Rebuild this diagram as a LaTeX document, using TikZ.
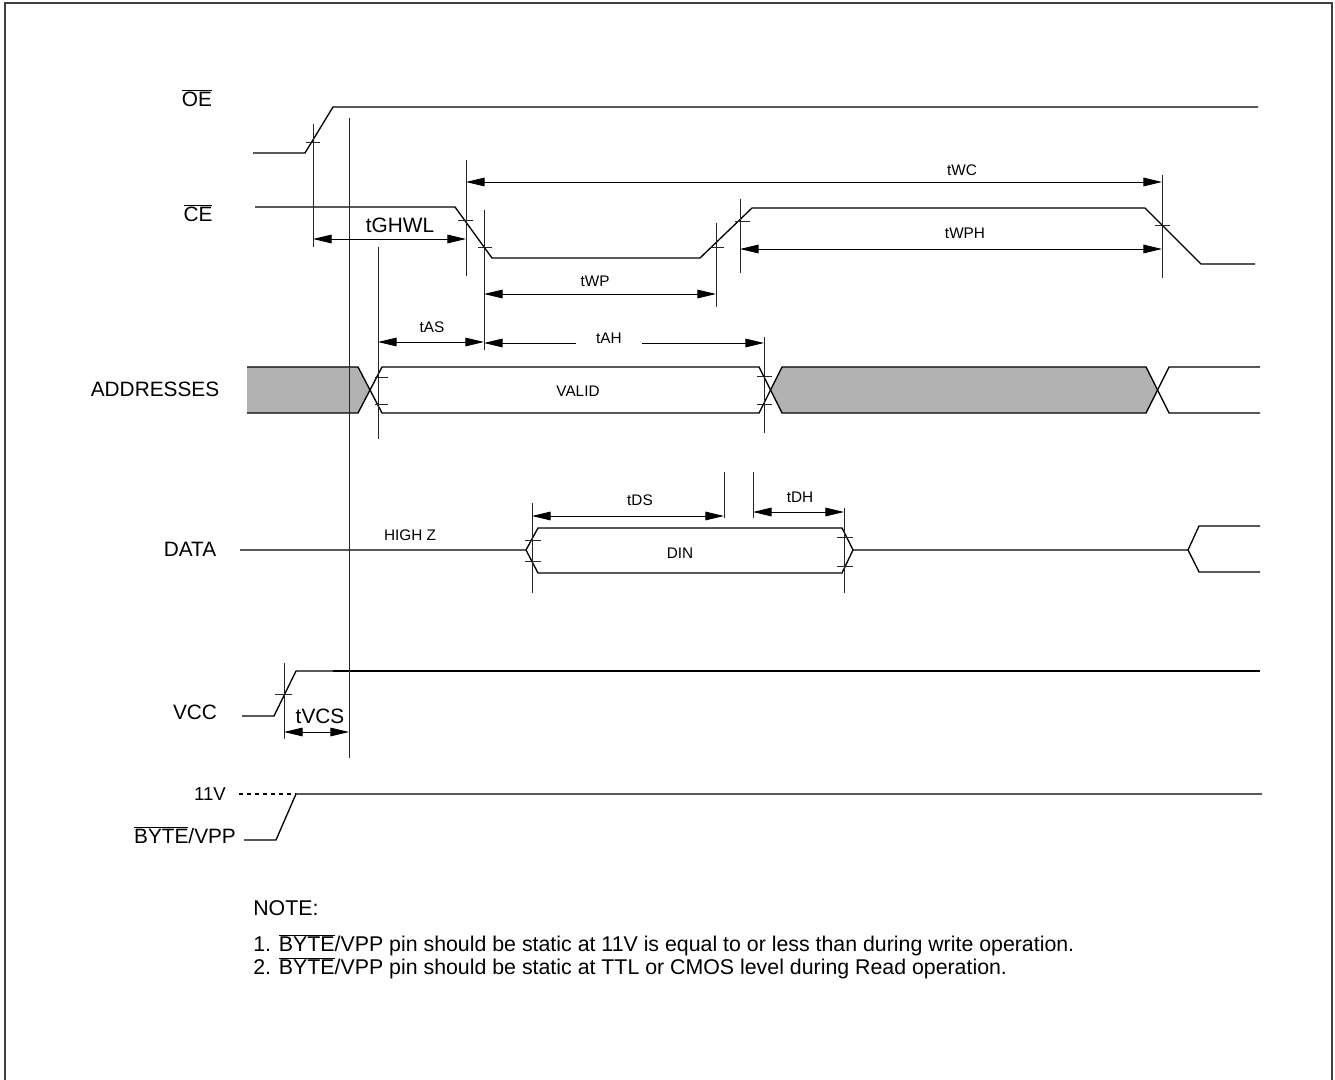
\documentclass[tikz,border=0pt]{standalone}
\usepackage{fontspec}
\setmainfont{Liberation Sans}
\usetikzlibrary{arrows.meta}

\newcommand{\barsig}[1]{$\overline{\mbox{#1}}$}

\begin{document}
\begin{tikzpicture}[x=0.75pt,y=-0.75pt]
     \tikzstyle{sig}=[line width=1pt,black]
     \tikzstyle{refline}=[line width=0.7pt,black!85]
     \tikzstyle{tick}=[line width=0.6pt,black!85]
     \tikzstyle{dim}=[line width=0.7pt,{Triangle[length=14pt,width=6.5pt]}-{Triangle[length=14pt,width=6.5pt]}]
     \tikzstyle{busfill}=[fill=black!30]
     \tikzstyle{signame}=[inner sep=0pt,font=\fontsize{15.6}{17}\selectfont]
     \tikzstyle{lbl}=[inner sep=0pt,font=\fontsize{11.5}{13}\selectfont]
     \tikzstyle{note}=[inner sep=0pt,anchor=west,font=\fontsize{16}{18}\selectfont]

     \useasboundingbox (0,0) rectangle (1335,1080);
     \draw[line width=1.4pt,black!75] (5,1080) -- (5,3) -- (1332,3) -- (1332,1080);

     % signal names
     \node[signame] (oe) at (197,98) {\barsig{OE}};
     \node[signame] (ce) at (198,213) {\barsig{CE}};
     \node[signame] (addr) at (155,389) {ADDRESSES};
     \node[signame] (data) at (190,549) {DATA};
     \node[signame] (vcc) at (195,712) {VCC};
     \node[lbl,font=\fontsize{14}{16}\selectfont] (v11) at (210,794) {11V};
     \node[signame] (byte) at (185,835) {\barsig{BYTE}/VPP};

     % waveforms
     \draw[sig] (253,153) -- (305,153) -- (333,107) -- (1258,107);
     \draw[sig] (255,207) -- (455,207) -- (492,258) -- (700,258) -- (752,208) -- (1145,208) -- (1201,264) -- (1255,264);
     \fill[busfill] (247,367) -- (358,367) -- (370,390) -- (358,413) -- (247,413) -- cycle;
     \fill[busfill] (770,390) -- (782,367) -- (1146,367) -- (1157,390) -- (1146,413) -- (782,413) -- cycle;
     \draw[sig] (247,367) -- (358,367) -- (382,413) -- (759,413) -- (782,367) -- (1146,367) -- (1169,413) -- (1260,413);
     \draw[sig] (247,413) -- (358,413) -- (382,367) -- (759,367) -- (782,413) -- (1146,413) -- (1169,367) -- (1260,367);
     \draw[sig] (240,550) -- (526,550) -- (538,528) -- (842,528) -- (853,550) -- (1188,550) -- (1199,526) -- (1260,526);
     \draw[sig] (526,550) -- (538,573) -- (842,573) -- (853,550);
     \draw[sig] (1188,550) -- (1199,572) -- (1260,572);
     \draw[sig] (242,716) -- (274,716) -- (296,671) -- (333,671);
     \draw[sig,line width=1.4pt] (333,671) -- (1260,671);
     \draw[sig,dashed] (239,794) -- (296,794);
     \draw[sig] (244,840) -- (276,840) -- (296,794) -- (1262,794);

     \node[lbl] (valid) at (578,391) {VALID};
     \node[lbl] (din) at (680,553) {DIN};
     \node[lbl] (highz) at (410,535) {HIGH Z};

     % reference lines
     \draw[refline] (313,124) -- (313,247);
     \draw[refline] (349,118) -- (349,758);
     \draw[refline] (466,160) -- (466,276);
     \draw[refline] (484,210) -- (484,350);
     \draw[refline] (716,223) -- (716,307);
     \draw[refline] (740,199) -- (740,273);
     \draw[refline] (1162,175) -- (1162,278);
     \draw[refline] (378,247) -- (378,439);
     \draw[refline] (764,337) -- (764,433);
     \draw[refline] (532,503) -- (532,593);
     \draw[refline] (844,508) -- (844,593);
     \draw[refline] (724,472) -- (724,518);
     \draw[refline] (753,472) -- (753,518);
     \draw[refline] (284,663) -- (284,739);

     % crossing ticks
     \draw[tick] (306,142) -- (320,142);
     \draw[tick] (458,220) -- (473,220);
     \draw[tick] (478,247) -- (492,247);
     \draw[tick] (710,247) -- (724,247);
     \draw[tick] (735,221) -- (750,221);
     \draw[tick] (1155,225) -- (1170,225);
     \draw[tick] (375,377) -- (388,377);
     \draw[tick] (375,404) -- (388,404);
     \draw[tick] (757,376) -- (772,376);
     \draw[tick] (757,404) -- (772,404);
     \draw[tick] (525,540) -- (541,540);
     \draw[tick] (525,561) -- (541,561);
     \draw[tick] (837,537) -- (853,537);
     \draw[tick] (837,566) -- (853,566);
     \draw[tick] (275,694) -- (292,694);

     % timing arrows
     \coordinate (ghwlA) at (313,239);  \coordinate (ghwlB) at (466,239);
     \coordinate (wcA) at (466,182);    \coordinate (wcB) at (1162,182);
     \coordinate (wphA) at (740,249);   \coordinate (wphB) at (1162,249);
     \coordinate (wpA) at (484,294);    \coordinate (wpB) at (716,294);
     \coordinate (asA) at (378,342);    \coordinate (asB) at (484,342);
     \coordinate (ahA) at (484,343);    \coordinate (ahB) at (764,343);
     \coordinate (dsA) at (532,516);    \coordinate (dsB) at (724,516);
     \coordinate (dhA) at (753,512);    \coordinate (dhB) at (844,512);
     \coordinate (vcsA) at (284,732);   \coordinate (vcsB) at (349,732);

     \draw[dim] (ghwlA) -- (ghwlB);
     \draw[dim] (wcA) -- (wcB);
     \draw[dim] (wphA) -- (wphB);
     \draw[dim] (wpA) -- (wpB);
     \draw[dim] (asA) -- (asB);
     \draw[dim] (ahA) -- (ahB);
     \draw[dim] (dsA) -- (dsB);
     \draw[dim] (dhA) -- (dhB);
     \draw[dim] (vcsA) -- (vcsB);

     \node[signame] (tghwl) at (400,225) {tGHWL};
     \node[lbl] (twc) at (962,170) {tWC};
     \node[lbl] (twph) at (965,233) {tWPH};
     \node[lbl] (twp) at (595,281) {tWP};
     \node[lbl] (tas) at (432,327) {tAS};
     \node[lbl,fill=white,inner xsep=15pt,inner ysep=3pt] (tah) at (609,338) {tAH};
     \node[lbl] (tds) at (640,500) {tDS};
     \node[lbl] (tdh) at (800,497) {tDH};
     \node[signame] (tvcs) at (320,716) {tVCS};

     % notes
     \node[note] (nhead) at (253,908) {NOTE:};
     \node[note] (n1) at (253,945) {1. \barsig{BYTE}/VPP pin should be static at 11V is equal to or less than during write operation.};
     \node[note] (n2) at (253,968) {2. \barsig{BYTE}/VPP pin should be static at TTL or CMOS level during Read operation.};
\end{tikzpicture}
\end{document}
